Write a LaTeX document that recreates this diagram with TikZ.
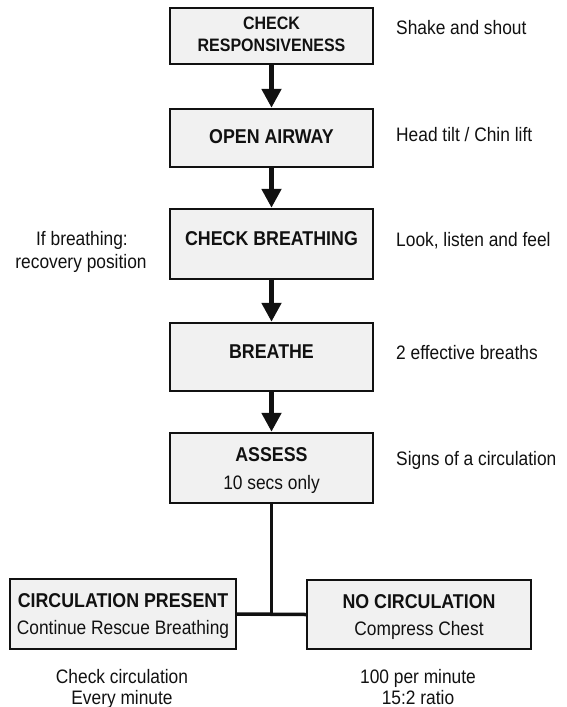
\documentclass[tikz,border=0pt]{standalone}
\usepackage{fontspec}
\setmainfont{Liberation Sans}[FakeStretch=0.89]
\usetikzlibrary{arrows.meta}
\definecolor{boxfill}{HTML}{F1F1F1}
\definecolor{ink}{HTML}{111111}
\begin{document}
\begin{tikzpicture}[x=1pt,y=-1pt,
  box/.style={draw=ink, line width=2.4pt, fill=boxfill, inner sep=0pt, minimum width=203pt},
  title/.style={font=\fontsize{20}{24}\selectfont\bfseries, text=ink, inner sep=0pt, anchor=base},
  titlesm/.style={font=\fontsize{18}{22}\selectfont\bfseries, text=ink, inner sep=0pt, anchor=base},
  txt/.style={font=\fontsize{19.5}{22}\selectfont, text=ink, inner sep=0pt, anchor=base},
  side/.style={txt, anchor=base west},
  flow/.style={line width=5pt, draw=ink, -{Triangle[width=19pt,length=19pt]}},
  link/.style={line width=3.5pt, draw=ink}]
\useasboundingbox (0,0) rectangle (566,707);
\fill[white] (0,0) rectangle (566,707);

% main column
\node[box, minimum height=56pt] (b1) at (271.5,36) {};
\node[box, minimum height=58pt] (b2) at (271.5,138) {};
\node[box, minimum height=70pt] (b3) at (271.5,244) {};
\node[box, minimum height=68pt] (b4) at (271.5,357) {};
\node[box, minimum height=70pt] (b5) at (271.5,468) {};
\node[box, minimum width=226pt, minimum height=70pt] (bl) at (123,614) {};
\node[box, minimum width=224pt, minimum height=69pt] (br) at (419,614.5) {};

% box texts
\node[titlesm] (t1a) at (271.5,29.5) {CHECK};
\node[titlesm] (t1b) at (271.5,51.5) {RESPONSIVENESS};
\node[title] (t2) at (271.5,143) {OPEN AIRWAY};
\node[title] (t3) at (271.5,245) {CHECK BREATHING};
\node[title] (t4) at (271.5,358) {BREATHE};
\node[title] (t5a) at (271.5,461) {ASSESS};
\node[txt] (t5b) at (271.5,489) {10 secs only};
\node[title] (tla) at (123,607) {CIRCULATION PRESENT};
\node[txt] (tlb) at (123,634) {Continue Rescue Breathing};
\node[title] (tra) at (419,608) {NO CIRCULATION};
\node[txt] (trb) at (419,635) {Compress Chest};

% side notes
\node[side] (s1) at (396,34) {Shake and shout};
\node[side] (s2) at (396,141) {Head tilt / Chin lift};
\node[side] (s3) at (396,246) {Look, listen and feel};
\node[side] (s4) at (396,359) {2 effective breaths};
\node[side] (s5) at (396,465) {Signs of a circulation};
\node[txt] (l1) at (82,245) {If breathing:};
\node[txt] (l2) at (81,268) {recovery position};

% bottom notes
\node[txt] (n1) at (122,683) {Check circulation};
\node[txt] (n2) at (122,704) {Every minute};
\node[txt] (n3) at (418,683) {100 per minute};
\node[txt] (n4) at (418,704) {15:2 ratio};

% connectors
\draw[flow] (b1) -- (b2);
\draw[flow] (b2) -- (b3);
\draw[flow] (b3) -- (b4);
\draw[flow] (b4) -- (b5);
\coordinate (j) at (b5.south |- bl.east);
\draw[link] (b5.south) -- (j);
\draw[link] (bl.east) -- (br.west);
\end{tikzpicture}
\end{document}
